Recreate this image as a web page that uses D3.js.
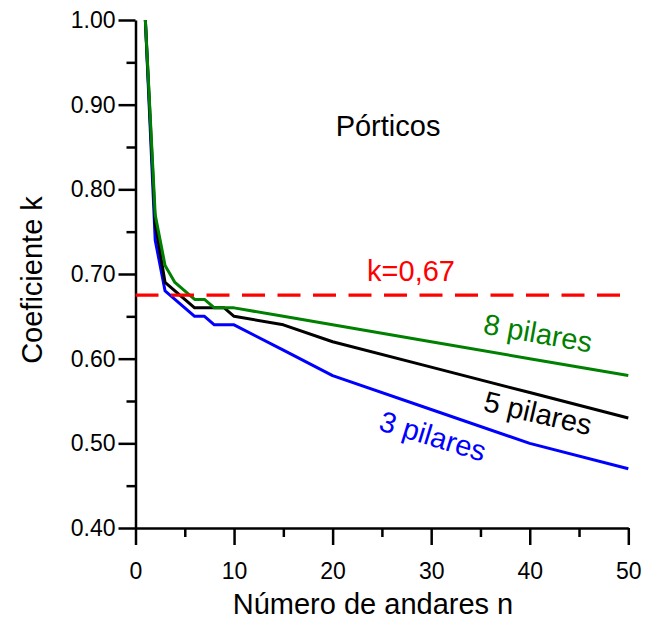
<!DOCTYPE html>
<html>
<head>
<meta charset="utf-8">
<script src="https://cdn.jsdelivr.net/npm/d3@7"></script>
<style>
  body { margin: 0; background: #fff; }
  svg { display: block; font-family: Arial, "Liberation Sans", sans-serif; }
  .axis path, .axis line { stroke: #000; stroke-width: 2.5; }
  .axis text { font-size: 23px; fill: #000; }
</style>
</head>
<body>
<div id="chart"></div>
<script>
document.addEventListener("DOMContentLoaded", function(e) {
  // number of storeys
  const andares = [1, 2, 3, 4, 5, 6, 7, 8, 9, 10, 15, 20, 30, 40, 50];
  const k3 = [1.00, 0.74, 0.68, 0.67, 0.66, 0.65, 0.65, 0.64, 0.64, 0.64, 0.61, 0.58, 0.54, 0.50, 0.47];
  const k5 = [1.00, 0.76, 0.69, 0.68, 0.67, 0.66, 0.66, 0.66, 0.66, 0.65, 0.64, 0.62, 0.59, 0.56, 0.53];
  const k8 = [1.00, 0.77, 0.71, 0.69, 0.68, 0.67, 0.67, 0.66, 0.66, 0.66, 0.65, 0.64, 0.62, 0.60, 0.58];
  const kLimite = 0.675;

  const xMajor = [0, 10, 20, 30, 40, 50];
  const xMinor = [5, 15, 25, 35, 45];
  const yMajor = [0.40, 0.50, 0.60, 0.70, 0.80, 0.90, 1.00];
  const yMinor = [0.45, 0.55, 0.65, 0.75, 0.85, 0.95];

  const W = 665, H = 621;
  const svg = d3.select('#chart').append('svg').attr('width', W).attr('height', H);

  const x = d3.scaleLinear().domain([0, 50]).range([135.5, 628.3]);
  const y = d3.scaleLinear().domain([0.4, 1.0]).range([528, 20]);

  // axes
  svg.append('g').attr('class', 'axis')
    .attr('transform', `translate(0,${y(0.4)})`)
    .call(d3.axisBottom(x).tickValues(xMajor).tickSize(17).tickSizeOuter(0).tickPadding(18).tickFormat(d3.format('d')));
  svg.append('g').attr('class', 'axis')
    .attr('transform', `translate(0,${y(0.4)})`)
    .call(d3.axisBottom(x).tickValues(xMinor).tickSize(9).tickSizeOuter(0).tickFormat(''))
    .select('.domain').remove();

  svg.append('g').attr('class', 'axis')
    .attr('transform', `translate(${x(0)},0)`)
    .call(d3.axisLeft(y).tickValues(yMajor).tickSize(17).tickSizeOuter(0).tickPadding(3).tickFormat(d3.format('.2f')));
  svg.append('g').attr('class', 'axis')
    .attr('transform', `translate(${x(0)},0)`)
    .call(d3.axisLeft(y).tickValues(yMinor).tickSize(9).tickSizeOuter(0).tickFormat(''))
    .select('.domain').remove();

  const line = d3.line().x(d => x(d[0])).y(d => y(d[1]));

  const series = [
    { vals: k3, color: '#0000ff' },
    { vals: k5, color: '#000000' },
    { vals: k8, color: '#008000' }
  ];

  series.forEach(s => {
    svg.append('path')
      .datum(andares.map((n, i) => [n, s.vals[i]]))
      .attr('d', line)
      .attr('fill', 'none')
      .attr('stroke', s.color)
      .attr('stroke-width', 3)
      .attr('stroke-linejoin', 'round');
  });

  // reference line k = 0,67
  svg.append('line')
    .attr('x1', x(0)).attr('x2', x(50))
    .attr('y1', y(kLimite)).attr('y2', y(kLimite))
    .attr('stroke', '#ff0000')
    .attr('stroke-width', 3.2)
    .attr('stroke-dasharray', '23,12.5');

  const label = (txt, cx, cy, color, angle) => {
    svg.append('text')
      .attr('transform', `translate(${cx},${cy}) rotate(${angle})`)
      .attr('text-anchor', 'middle')
      .attr('dy', '0.35em')
      .attr('font-size', 29)
      .attr('fill', color)
      .text(txt);
  };

  label('k=0,67', 411, 271, '#ff0000', 0);
  label('Pórticos', 388, 126, '#000000', 0);
  label('8 pilares', 538, 333, '#008000', 10);
  label('5 pilares', 538, 413, '#000000', 13);
  label('3 pilares', 433, 436, '#0000ff', 17);

  // axis titles
  svg.append('text')
    .attr('x', 373).attr('y', 614)
    .attr('text-anchor', 'middle')
    .attr('font-size', 29)
    .text('Número de andares n');

  svg.append('text')
    .attr('transform', `translate(42,280) rotate(-90)`)
    .attr('text-anchor', 'middle')
    .attr('font-size', 29)
    .text('Coeficiente k');
});
</script>
</body>
</html>
